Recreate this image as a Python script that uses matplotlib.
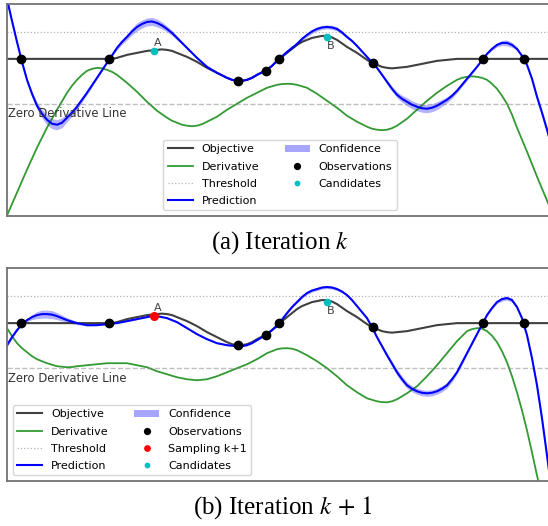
import numpy as np
import matplotlib.pyplot as plt
from matplotlib.patches import Patch

plt.rcParams['mathtext.fontset'] = 'stix'

# sample positions along x (shared by all curves), 10 values per row below
x = np.arange(0, 55, 0.5)

# objective function (same in both iterations)
objective = [
    4.5, 4.5, 4.5, 4.5, 4.5, 4.5, 4.5, 4.5, 4.5, 4.5,
    4.5, 4.5, 4.5, 4.5, 4.5, 4.5, 4.5, 4.5, 4.5, 4.5,
    4.5, 4.5, 4.6, 4.75, 4.9, 5.0, 5.1, 5.2, 5.3, 5.35,
    5.4, 5.45, 5.4, 5.3, 5.1, 4.9, 4.7, 4.45, 4.2, 3.9,
    3.6, 3.35, 3.1, 2.85, 2.6, 2.4, 2.3, 2.3, 2.4, 2.6,
    2.9, 3.15, 3.4, 3.8, 4.3, 4.7, 5.1, 5.5, 5.9, 6.2,
    6.4, 6.6, 6.7, 6.8, 6.8, 6.65, 6.4, 6.05, 5.7, 5.4,
    5.1, 4.75, 4.4, 4.1, 3.9, 3.7, 3.6, 3.55, 3.6, 3.65,
    3.7, 3.8, 3.9, 4.0, 4.1, 4.2, 4.3, 4.35, 4.4, 4.45,
    4.5, 4.5, 4.5, 4.5, 4.5, 4.5, 4.5, 4.5, 4.5, 4.5,
    4.5, 4.5, 4.5, 4.5, 4.5, 4.5, 4.5, 4.5, 4.5, 4.5]

# iteration k
pred_a = [
    10.5, 8.3, 6.2, 4.2, 2.4, 1.0, -0.2, -1.0, -1.6, -2.0,
    -2.1, -1.9, -1.4, -0.9, -0.3, 0.4, 1.1, 1.85, 2.6, 3.35,
    4.1, 4.85, 5.6, 6.2, 6.7, 7.25, 7.7, 8.0, 8.2, 8.25,
    8.1, 7.85, 7.5, 7.1, 6.6, 6.1, 5.6, 5.1, 4.6, 4.15,
    3.7, 3.4, 3.1, 2.85, 2.6, 2.4, 2.3, 2.3, 2.4, 2.6,
    2.9, 3.15, 3.4, 3.8, 4.3, 4.75, 5.2, 5.6, 6.0, 6.5,
    6.9, 7.25, 7.5, 7.65, 7.7, 7.65, 7.5, 7.15, 6.7, 6.3,
    5.8, 5.25, 4.7, 4.15, 3.6, 2.9, 2.2, 1.5, 0.9, 0.5,
    0.2, -0.1, -0.3, -0.45, -0.5, -0.4, -0.2, 0.1, 0.4, 0.8,
    1.3, 1.9, 2.5, 3.1, 3.7, 4.35, 5.0, 5.5, 5.9, 6.1,
    6.1, 5.9, 5.5, 4.8, 3.9, 2.5, 0.7, -0.9, -2.6, -4.4]
conf_a = [
    0.3, 0.2, 0.1, 0.03, 0.15, 0.25, 0.35, 0.45, 0.5, 0.5,
    0.5, 0.5, 0.4, 0.35, 0.3, 0.25, 0.2, 0.15, 0.1, 0.08,
    0.03, 0.1, 0.2, 0.25, 0.3, 0.35, 0.4, 0.4, 0.4, 0.4,
    0.4, 0.35, 0.3, 0.25, 0.2, 0.15, 0.1, 0.1, 0.1, 0.08,
    0.05, 0.05, 0.05, 0.05, 0.05, 0.03, 0.0, 0.03, 0.05, 0.05,
    0.05, 0.03, 0.0, 0.0, 0.0, 0.05, 0.1, 0.12, 0.15, 0.18,
    0.2, 0.2, 0.2, 0.2, 0.2, 0.2, 0.2, 0.18, 0.15, 0.12,
    0.1, 0.08, 0.05, 0.03, 0.08, 0.15, 0.2, 0.25, 0.3, 0.35,
    0.4, 0.4, 0.4, 0.4, 0.4, 0.4, 0.4, 0.35, 0.3, 0.25,
    0.2, 0.18, 0.15, 0.1, 0.05, 0.03, 0.08, 0.15, 0.2, 0.25,
    0.3, 0.25, 0.15, 0.05, 0.05, 0.1, 0.2, 0.25, 0.3, 0.35]
deriv_a = [
    -11.2, -10.05, -8.9, -7.75, -6.6, -5.5, -4.4, -3.4, -2.4, -1.5,
    -0.6, 0.25, 1.1, 1.8, 2.4, 2.9, 3.3, 3.5, 3.6, 3.55,
    3.4, 3.2, 2.9, 2.5, 2.1, 1.65, 1.2, 0.7, 0.2, -0.25,
    -0.7, -1.05, -1.4, -1.7, -1.9, -2.1, -2.2, -2.25, -2.2, -2.05,
    -1.8, -1.55, -1.3, -0.95, -0.6, -0.3, 0.0, 0.3, 0.6, 0.85,
    1.1, 1.35, 1.6, 1.75, 1.9, 1.98, 2.0, 1.98, 1.9, 1.75,
    1.6, 1.3, 1.0, 0.65, 0.3, -0.05, -0.4, -0.8, -1.2, -1.5,
    -1.8, -2.05, -2.3, -2.5, -2.6, -2.65, -2.6, -2.45, -2.2, -1.85,
    -1.5, -1.05, -0.6, -0.15, 0.3, 0.7, 1.1, 1.45, 1.8, 2.1,
    2.4, 2.6, 2.7, 2.75, 2.7, 2.6, 2.4, 2.0, 1.5, 0.8,
    0.0, -1.1, -2.4, -3.6, -4.8, -6.05, -7.3, -8.5, -9.7, -10.9]

# iteration k+1
pred_b = [
    2.3, 3.1, 3.8, 4.4, 4.8, 5.1, 5.3, 5.4, 5.4, 5.35,
    5.2, 5.0, 4.8, 4.65, 4.5, 4.4, 4.3, 4.3, 4.3, 4.35,
    4.4, 4.45, 4.5, 4.6, 4.7, 4.8, 4.9, 5.0, 5.1, 5.2,
    5.2, 5.1, 5.0, 4.8, 4.6, 4.3, 4.0, 3.7, 3.4, 3.15,
    2.9, 2.7, 2.5, 2.4, 2.3, 2.25, 2.2, 2.2, 2.3, 2.5,
    2.8, 3.1, 3.4, 3.8, 4.2, 4.85, 5.5, 6.1, 6.6, 7.1,
    7.5, 7.75, 7.9, 8.05, 8.1, 8.05, 7.9, 7.65, 7.3, 6.8,
    6.2, 5.6, 5.0, 4.1, 3.1, 2.2, 1.3, 0.45, -0.4, -1.1,
    -1.7, -2.05, -2.3, -2.45, -2.5, -2.45, -2.3, -2.05, -1.7, -1.1,
    -0.4, 0.55, 1.5, 2.45, 3.4, 4.35, 5.3, 6.0, 6.6, 6.9,
    7.0, 6.8, 6.1, 5.0, 3.3, 1.0, -1.7, -5.0, -8.7, -12.5]
conf_b = [
    0.2, 0.15, 0.1, 0.03, 0.15, 0.25, 0.35, 0.4, 0.4, 0.4,
    0.35, 0.3, 0.25, 0.2, 0.15, 0.1, 0.1, 0.08, 0.05, 0.05,
    0.03, 0.03, 0.05, 0.05, 0.05, 0.05, 0.05, 0.03, 0.03, 0.0,
    0.03, 0.03, 0.05, 0.05, 0.05, 0.05, 0.05, 0.05, 0.05, 0.05,
    0.05, 0.05, 0.05, 0.05, 0.05, 0.03, 0.0, 0.03, 0.05, 0.05,
    0.05, 0.03, 0.0, 0.0, 0.0, 0.05, 0.1, 0.1, 0.1, 0.12,
    0.15, 0.15, 0.15, 0.15, 0.15, 0.15, 0.15, 0.12, 0.1, 0.1,
    0.1, 0.08, 0.05, 0.03, 0.08, 0.15, 0.2, 0.25, 0.3, 0.3,
    0.3, 0.3, 0.3, 0.3, 0.3, 0.3, 0.3, 0.3, 0.3, 0.25,
    0.2, 0.18, 0.15, 0.1, 0.05, 0.03, 0.08, 0.1, 0.15, 0.2,
    0.2, 0.2, 0.15, 0.05, 0.05, 0.1, 0.2, 0.25, 0.3, 0.35]
deriv_b = [
    4.0, 3.2, 2.5, 2.0, 1.6, 1.2, 0.9, 0.7, 0.5, 0.35,
    0.2, 0.15, 0.1, 0.12, 0.2, 0.25, 0.3, 0.35, 0.4, 0.45,
    0.5, 0.5, 0.5, 0.5, 0.5, 0.4, 0.3, 0.2, 0.1, -0.1,
    -0.3, -0.45, -0.6, -0.75, -0.9, -1.0, -1.1, -1.15, -1.2, -1.15,
    -1.1, -0.95, -0.8, -0.6, -0.4, -0.2, 0.0, 0.2, 0.4, 0.65,
    0.9, 1.2, 1.5, 1.7, 1.9, 1.98, 2.0, 1.95, 1.8, 1.55,
    1.3, 1.0, 0.7, 0.35, 0.0, -0.4, -0.8, -1.25, -1.7, -2.05,
    -2.4, -2.7, -3.0, -3.15, -3.3, -3.38, -3.4, -3.3, -3.1, -2.8,
    -2.5, -2.15, -1.8, -1.3, -0.8, -0.25, 0.3, 0.9, 1.5, 2.1,
    2.7, 3.2, 3.7, 3.9, 4.0, 3.95, 3.7, 3.25, 2.6, 1.7,
    0.6, -0.8, -2.4, -4.2, -6.2, -8.4, -10.7, -12.9, -15.2, -17.5]

obs_x = [1.4, 10.2, 23.1, 25.9, 27.2, 36.6, 47.6, 51.7]
obs_y = [4.5, 4.5, 2.3, 3.3, 4.5, 4.1, 4.5, 4.5]

cand_a_x = [14.7, 32.0]
cand_a_y = [5.3, 6.7]
cand_a_lbl = ['A', 'B']
cand_b_x = [32.0]
cand_b_y = [6.6]
cand_b_lbl = ['B']
sample_x = [14.7]
sample_y = [5.2]
sample_lbl = ['A']

threshold = 7.2
zero_level = 0.0


def label_point(ax, px, py, t):
    # 'A' sits above its marker, 'B' below
    if t == 'A':
        ax.annotate(t, (px, py), xytext=(3, 2), textcoords='offset points',
                    ha='center', va='bottom', fontsize=8, color='0.25')
    else:
        ax.annotate(t, (px, py), xytext=(3, -3), textcoords='offset points',
                    ha='center', va='top', fontsize=8, color='0.25')


def draw_panel(ax, pred, conf, deriv, cand_x, cand_y, cand_lbl, samp=None, legend_loc='lower center'):
    pred = np.array(pred)
    conf = np.array(conf)
    h_obj, = ax.plot(x, objective, color='k', alpha=0.75, lw=1.5, label='Objective')
    h_der, = ax.plot(x, deriv, color='g', alpha=0.8, lw=1.3, label='Derivative')
    h_thr = ax.axhline(threshold, color='gray', ls=':', lw=0.9, alpha=0.6, label='Threshold')
    ax.axhline(zero_level, color='gray', ls='--', lw=1.0, alpha=0.5)
    ax.text(0.1, zero_level - 0.35, 'Zero Derivative Line', fontsize=8.4, color='0.2',
            ha='left', va='top')
    h_pred, = ax.plot(x, pred, color='b', lw=1.5, label='Prediction')
    ax.fill_between(x, pred - conf, pred + conf, color='b', alpha=0.3, lw=0)
    h_conf = Patch(color='b', alpha=0.35, lw=0, label='Confidence')
    h_obs, = ax.plot(obs_x, obs_y, 'o', color='k', ms=6, ls='none', zorder=5, label='Observations')
    handles = [h_obj, h_der, h_thr, h_pred, h_conf, h_obs]
    if samp is not None:
        sx, sy, slbl = samp
        h_s, = ax.plot(sx, sy, 'o', color='r', ms=5.5, ls='none', zorder=6, label='Sampling k+1')
        for px, py, t in zip(sx, sy, slbl):
            label_point(ax, px, py, t)
        handles.append(h_s)
    h_c, = ax.plot(cand_x, cand_y, 'o', color='c', ms=4.5, ls='none', zorder=6, label='Candidates')
    handles.append(h_c)
    for px, py, t in zip(cand_x, cand_y, cand_lbl):
        label_point(ax, px, py, t)

    ax.legend(handles=handles, loc=legend_loc, ncol=2, fontsize=8, handlelength=2.25,
              labelspacing=0.65, columnspacing=2.3, markerscale=0.7, framealpha=0.8)
    ax.set_xlim(0, 54.6)
    ax.set_ylim(-11.25, 10.0)
    ax.set_xticks([])
    ax.set_yticks([])
    for s in ax.spines.values():
        s.set_color('0.45')
        s.set_linewidth(1.3)


fig = plt.figure(figsize=(5.48, 5.26), dpi=100)
ax1 = fig.add_axes([7 / 548, 1 - 216 / 526, 546 / 548, 212 / 526])
ax2 = fig.add_axes([7 / 548, 1 - 481 / 526, 546 / 548, 213 / 526])

draw_panel(ax1, pred_a, conf_a, deriv_a, cand_a_x, cand_a_y, cand_a_lbl)
draw_panel(ax2, pred_b, conf_b, deriv_b, cand_b_x, cand_b_y, cand_b_lbl,
           samp=(sample_x, sample_y, sample_lbl), legend_loc='lower left')

fig.text(280 / 548, 1 - 243 / 526, '(a) Iteration $k$', ha='center', va='center',
         fontsize=18, family='Liberation Serif')
fig.text(283 / 548, 1 - 508 / 526, r'(b) Iteration $k\,+\,1$', ha='center', va='center',
         fontsize=18, family='Liberation Serif')

fig.savefig('out.png', dpi=100)
